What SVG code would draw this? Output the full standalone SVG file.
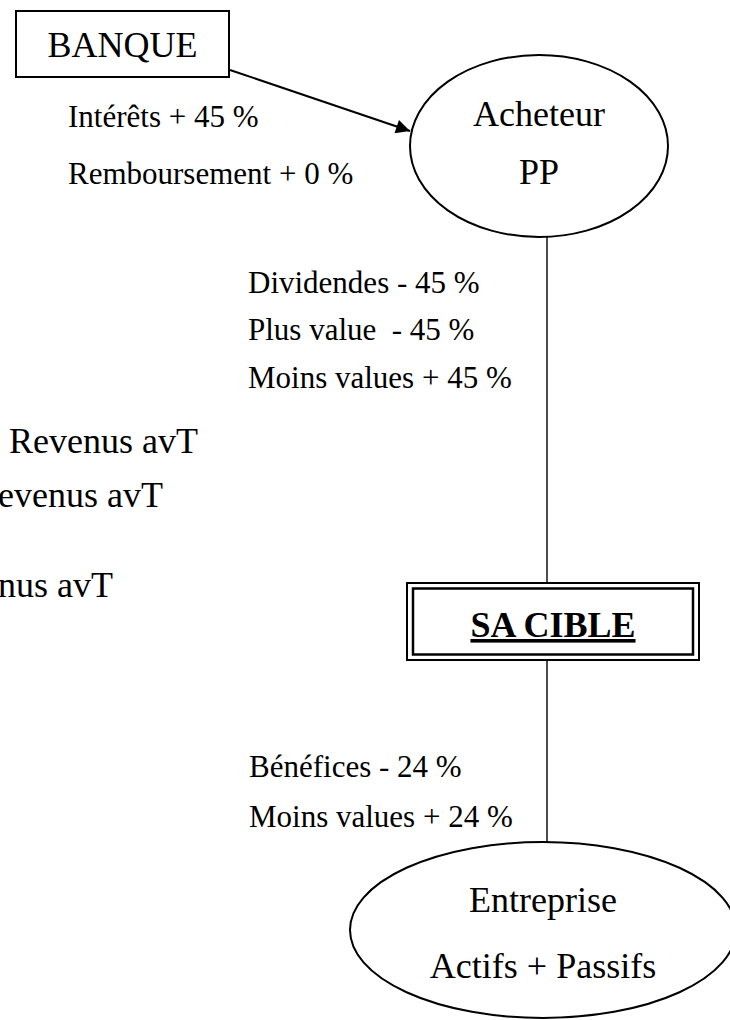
<svg xmlns="http://www.w3.org/2000/svg" width="730" height="1020" viewBox="0 0 730 1020">
  <style>
    text { font-family: "Liberation Serif", "Times New Roman", serif; fill: #000; }
    .big { font-size: 36px; }
    .lbl { font-size: 31px; white-space: pre; }
    .mid { text-anchor: middle; }
    .end { text-anchor: end; }
    .shape { fill: #fff; stroke: #000; stroke-width: 2; }
    .thin { stroke: #000; stroke-width: 1.4; fill: none; }
  </style>
  <defs>
    <marker id="arrowhead" viewBox="0 0 10 10" refX="10" refY="5" markerWidth="9" markerHeight="7" markerUnits="strokeWidth" orient="auto">
      <path d="M0,0 L10,5 L0,10 Z" fill="#000"/>
    </marker>
  </defs>

  <!-- connectors -->
  <g id="connectors">
    <line x1="230" y1="70" x2="410" y2="131" stroke="#000" stroke-width="2" marker-end="url(#arrowhead)"/>
    <line class="thin" x1="547" y1="237" x2="547" y2="583"/>
    <line class="thin" x1="547" y1="660" x2="547" y2="842"/>
  </g>

  <!-- flow labels -->
  <g id="labels">
    <text class="lbl" x="68" y="127">Intérêts + 45 %</text>
    <text class="lbl" x="68" y="184">Remboursement + 0 %</text>
    <text class="lbl" x="248" y="293">Dividendes - 45 %</text>
    <text class="lbl" x="248" y="340">Plus value  - 45 %</text>
    <text class="lbl" x="248" y="388">Moins values + 45 %</text>
    <text class="lbl" x="249" y="777">Bénéfices - 24 %</text>
    <text class="lbl" x="249" y="827">Moins values + 24 %</text>
  </g>

  <!-- text running off the left edge -->
  <g id="revenus">
    <text class="big end" x="198" y="453">Revenus avT</text>
    <text class="big end" x="163" y="507">evenus avT</text>
    <text class="big end" x="113" y="597">nus avT</text>
  </g>

  <g id="banque">
    <rect class="shape" x="16" y="11" width="213" height="66"/>
    <text class="big mid" x="122.5" y="57">BANQUE</text>
  </g>

  <g id="acheteur">
    <ellipse class="shape" cx="539" cy="146" rx="129" ry="91"/>
    <text class="big mid" x="539" y="126">Acheteur</text>
    <text class="big mid" x="539" y="184">PP</text>
  </g>

  <g id="sa-cible">
    <rect x="407" y="583" width="292" height="77" fill="#fff" stroke="#000" stroke-width="2"/>
    <rect x="413" y="588.5" width="280" height="66" fill="none" stroke="#000" stroke-width="2.5"/>
    <text class="big mid" x="553" y="637" font-weight="bold" text-decoration="underline">SA CIBLE</text>
  </g>

  <g id="entreprise">
    <ellipse class="shape" cx="543" cy="930" rx="193" ry="88"/>
    <text class="big mid" x="543" y="912">Entreprise</text>
    <text class="big mid" x="543" y="978">Actifs + Passifs</text>
  </g>
</svg>
